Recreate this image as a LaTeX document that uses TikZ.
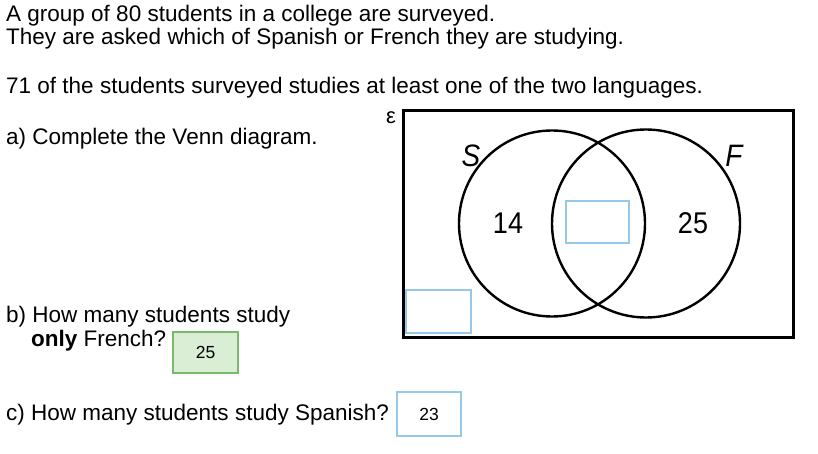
\documentclass[tikz,border=0pt]{standalone}
\usepackage{fontspec}
\setmainfont{Liberation Sans}
\newfontfamily\narrowfont[FakeStretch=0.9]{Liberation Sans}
\begin{document}
\begin{tikzpicture}[x=1pt,y=-1pt,
  txt/.style={anchor=base west,inner sep=0pt,font=\fontsize{22.5}{27}\selectfont},
  venn/.style={draw=black,line width=2.4pt},
  boxblue/.style={draw={rgb,255:red,150;green,200;blue,232},line width=1.2pt,fill=white},
  boxgreen/.style={draw={rgb,255:red,120;green,185;blue,110},fill={rgb,255:red,218;green,238;blue,213},line width=1.2pt},
  num/.style={font=\narrowfont\fontsize{30}{36}\selectfont,inner sep=0pt},
  setlbl/.style={font=\narrowfont\itshape\fontsize{31}{36}\selectfont,inner sep=0pt},
  small/.style={font=\fontsize{17.5}{21}\selectfont,inner sep=0pt}]
\useasboundingbox (0,0) rectangle (818,454);
\node[txt] (l1) at (6,22) {A group of 80 students in a college are surveyed.};
\node[txt] (l2) at (6,45) {They are asked which of Spanish or French they are studying.};
\node[txt] (l3) at (6,94) {71 of the students surveyed studies at least one of the two languages.};
\node[txt] (qa) at (6,145) {a) Complete the Venn diagram.};
\node[txt] (qb) at (6,322) {b) How many students study};
\node[txt] (qb2) at (31,346) {\textbf{only} French?};
\node[txt] (qc) at (6,420) {c) How many students study Spanish?};
% universal set
\draw[line width=3pt] (403,111) rectangle (793,337);
\node[font=\fontsize{22}{26}\selectfont,inner sep=0pt] (eps) at (391,118) {ε};
\draw[venn] (552,223.5) circle (93);
\draw[venn] (646,223.5) circle (94);
\node[setlbl] (S) at (471,156) {S};
\node[setlbl] (F) at (734,156) {F};
\node[num] (n14) at (508,223) {14};
\node[num] (n25) at (693,223) {25};
\draw[boxblue] (566,201) rectangle (629,243);
\draw[boxblue] (406,290) rectangle (471,333);
% answer boxes
\draw[boxgreen] (173,332) rectangle (238,373);
\node[small] (a25) at (205.5,352.5) {25};
\draw[boxblue] (397,392) rectangle (461,436);
\node[small] (a23) at (429,414) {23};
\end{tikzpicture}
\end{document}
